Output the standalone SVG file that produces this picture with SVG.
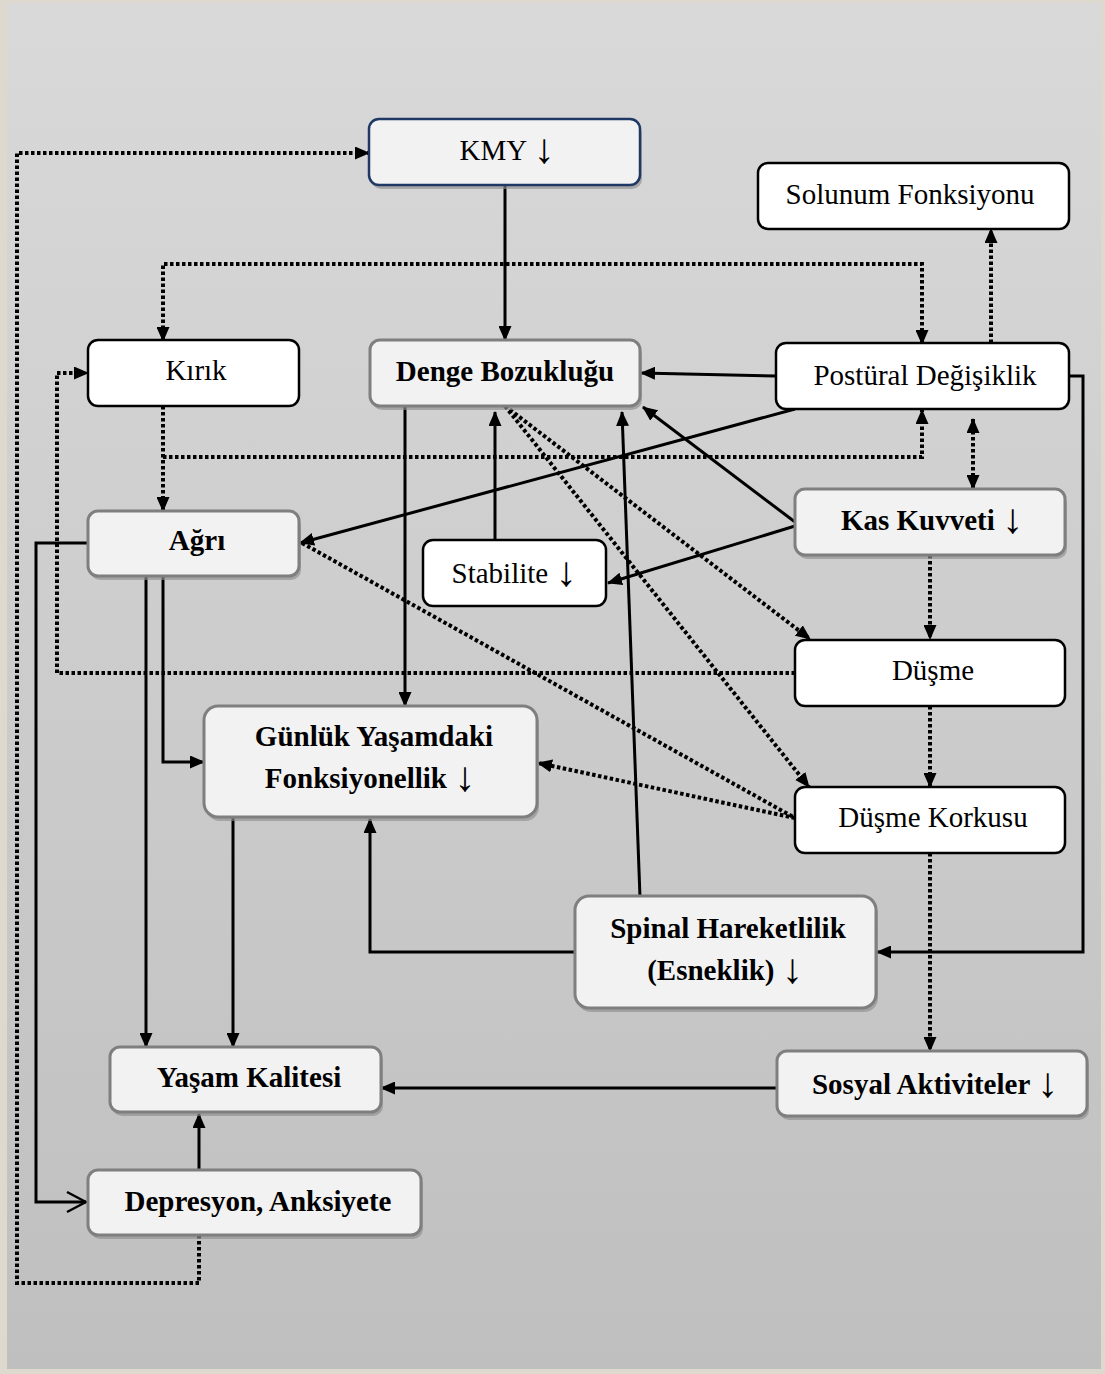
<svg xmlns="http://www.w3.org/2000/svg" width="1105" height="1374" viewBox="0 0 1105 1374">
  <defs>
    <linearGradient id="bg" x1="0" y1="0" x2="0" y2="1">
      <stop offset="0" stop-color="#d9d9d9"/>
      <stop offset="1" stop-color="#bfbfbf"/>
    </linearGradient>
    <marker id="ah" viewBox="0 0 15 13" refX="14" refY="6.5" markerWidth="15" markerHeight="13" markerUnits="userSpaceOnUse" orient="auto-start-reverse">
      <path d="M0,0 L15,6.5 L0,13 Z" fill="#000"/>
    </marker>
    <marker id="open" viewBox="0 0 22 24" refX="20" refY="12" markerWidth="22" markerHeight="24" markerUnits="userSpaceOnUse" orient="auto">
      <path d="M1,2 L20,12 L1,22" fill="none" stroke="#000" stroke-width="2.5"/>
    </marker>
  </defs>
  <style>
    .solid { fill: none; stroke: #000; stroke-width: 3; }
    .dot { fill: none; stroke: #000; stroke-width: 4; stroke-dasharray: 3.5 2.5; }
    .arr { marker-end: url(#ah); }
    .both { marker-start: url(#ah); marker-end: url(#ah); }
    .box-w { fill: #ffffff; stroke: #000; stroke-width: 2.5; }
    .box-g { fill: #f2f2f2; stroke: #7f7f7f; stroke-width: 3; }
    .box-k { fill: #f2f2f2; stroke: #1f3864; stroke-width: 2.5; }
    .shadow { fill: #8f8f8f; opacity: 0.65; }
    text { font-family: "Liberation Serif", "Times New Roman", serif; font-size: 29px; fill: #000; text-anchor: middle; }
    .b { font-weight: bold; }
    .dn { font-size: 42px; font-weight: normal; }
  </style>

  <!-- frame and panel -->
  <rect x="0" y="0" width="1105" height="1374" fill="#ddd9ce"/>
  <rect x="7" y="3" width="1094" height="1366" fill="url(#bg)"/>

  <!-- connectors -->
  <g id="connectors">
    <!-- solid -->
    <path class="solid arr" d="M505,186 V340"/>
    <path class="solid arr" d="M776,376 L641,373"/>
    <path class="solid arr" d="M795,409 L300,543"/>
    <path class="solid arr" d="M795,522 L643,407"/>
    <path class="solid arr" d="M795,526 L608,583"/>
    <path class="solid arr" d="M495,540 V412"/>
    <path class="solid arr" d="M640,897 L622,412"/>
    <path class="solid arr" d="M405,406 V706"/>
    <path class="solid arr" d="M1069,376 H1083 V952 H877"/>
    <path class="solid arr" d="M575,952 H370 V819"/>
    <path class="solid arr" d="M163,576 V762 H204"/>
    <path class="solid arr" d="M146,576 V1047"/>
    <path class="solid arr" d="M233,818 V1047"/>
    <path class="solid arr" d="M777,1088 H381"/>
    <path class="solid arr" d="M199,1170 V1114"/>
    <path class="solid" d="M88,543 H36 V1202 H86" marker-end="url(#open)"/>
    <!-- dotted -->
    <path class="dot arr" d="M199,1235 V1283 H17 V153 H369"/>
    <path class="dot both" d="M163,341 V264 H922 V344"/>
    <path class="dot arr" d="M991,343 V229"/>
    <path class="dot arr" d="M163,406 V511"/>
    <path class="dot arr" d="M163,457 H922 V410"/>
    <path class="dot both" d="M973,419 V489"/>
    <path class="dot arr" d="M505,406 L810,639"/>
    <path class="dot arr" d="M505,406 L809,787"/>
    <path class="dot" d="M302,543 L795,818"/>
    <path class="dot arr" d="M795,818 L538,763"/>
    <path class="dot arr" d="M930,555 V639"/>
    <path class="dot arr" d="M930,706 V787"/>
    <path class="dot arr" d="M795,673 H57 V373 H88"/>
    <path class="dot arr" d="M930,853 V1051"/>
  </g>

  <!-- nodes -->
  <g id="n-kmy">
    <rect class="shadow" x="371" y="123" width="271" height="66" rx="10"/>
    <rect class="box-k" x="369" y="119" width="271" height="66" rx="10"/>
    <text x="507" y="160">KMY <tspan class="dn" dy="3">↓</tspan></text>
  </g>
  <g id="n-solunum">
    <rect class="box-w" x="758" y="163" width="311" height="66" rx="10"/>
    <text x="910" y="204">Solunum Fonksiyonu</text>
  </g>
  <g id="n-kirik">
    <rect class="box-w" x="88" y="340" width="211" height="66" rx="10"/>
    <text x="196" y="380">Kırık</text>
  </g>
  <g id="n-denge">
    <rect class="shadow" x="372" y="344" width="270" height="66" rx="10"/>
    <rect class="box-g" x="370" y="340" width="270" height="66" rx="10"/>
    <text class="b" x="505" y="381">Denge Bozukluğu</text>
  </g>
  <g id="n-postural">
    <rect class="box-w" x="776" y="343" width="293" height="66" rx="10"/>
    <text x="925" y="385">Postüral Değişiklik</text>
  </g>
  <g id="n-agri">
    <rect class="shadow" x="90" y="515" width="211" height="65" rx="10"/>
    <rect class="box-g" x="88" y="511" width="211" height="65" rx="10"/>
    <text class="b" x="197" y="550">Ağrı</text>
  </g>
  <g id="n-stabilite">
    <rect class="box-w" x="423" y="540" width="183" height="66" rx="10"/>
    <text x="514" y="583">Stabilite <tspan class="dn" dy="3">↓</tspan></text>
  </g>
  <g id="n-kas">
    <rect class="shadow" x="797" y="493" width="270" height="66" rx="10"/>
    <rect class="box-g" x="795" y="489" width="270" height="66" rx="10"/>
    <text class="b" x="932" y="530">Kas Kuvveti <tspan class="dn" dy="3">↓</tspan></text>
  </g>
  <g id="n-dusme">
    <rect class="box-w" x="795" y="640" width="270" height="66" rx="10"/>
    <text x="933" y="680">Düşme</text>
  </g>
  <g id="n-gunluk">
    <rect class="shadow" x="206" y="710" width="333" height="111" rx="14"/>
    <rect class="box-g" x="204" y="706" width="333" height="111" rx="14"/>
    <text class="b" x="374" y="746">Günlük Yaşamdaki</text>
    <text class="b" x="370" y="788">Fonksiyonellik <tspan class="dn" dy="3">↓</tspan></text>
  </g>
  <g id="n-korku">
    <rect class="box-w" x="795" y="787" width="270" height="66" rx="10"/>
    <text x="933" y="827">Düşme Korkusu</text>
  </g>
  <g id="n-spinal">
    <rect class="shadow" x="577" y="900" width="301" height="112" rx="14"/>
    <rect class="box-g" x="575" y="896" width="301" height="112" rx="14"/>
    <text class="b" x="728" y="938">Spinal Hareketlilik</text>
    <text class="b" x="725" y="980">(Esneklik) <tspan class="dn" dy="3">↓</tspan></text>
  </g>
  <g id="n-yasam">
    <rect class="shadow" x="112" y="1051" width="271" height="65" rx="10"/>
    <rect class="box-g" x="110" y="1047" width="271" height="65" rx="10"/>
    <text class="b" x="249" y="1087">Yaşam Kalitesi</text>
  </g>
  <g id="n-sosyal">
    <rect class="shadow" x="779" y="1055" width="310" height="65" rx="10"/>
    <rect class="box-g" x="777" y="1051" width="310" height="65" rx="10"/>
    <text class="b" x="935" y="1094">Sosyal Aktiviteler <tspan class="dn" dy="3">↓</tspan></text>
  </g>
  <g id="n-depresyon">
    <rect class="shadow" x="90" y="1174" width="333" height="65" rx="10"/>
    <rect class="box-g" x="88" y="1170" width="333" height="65" rx="10"/>
    <text class="b" x="258" y="1211">Depresyon, Anksiyete</text>
  </g>
</svg>
